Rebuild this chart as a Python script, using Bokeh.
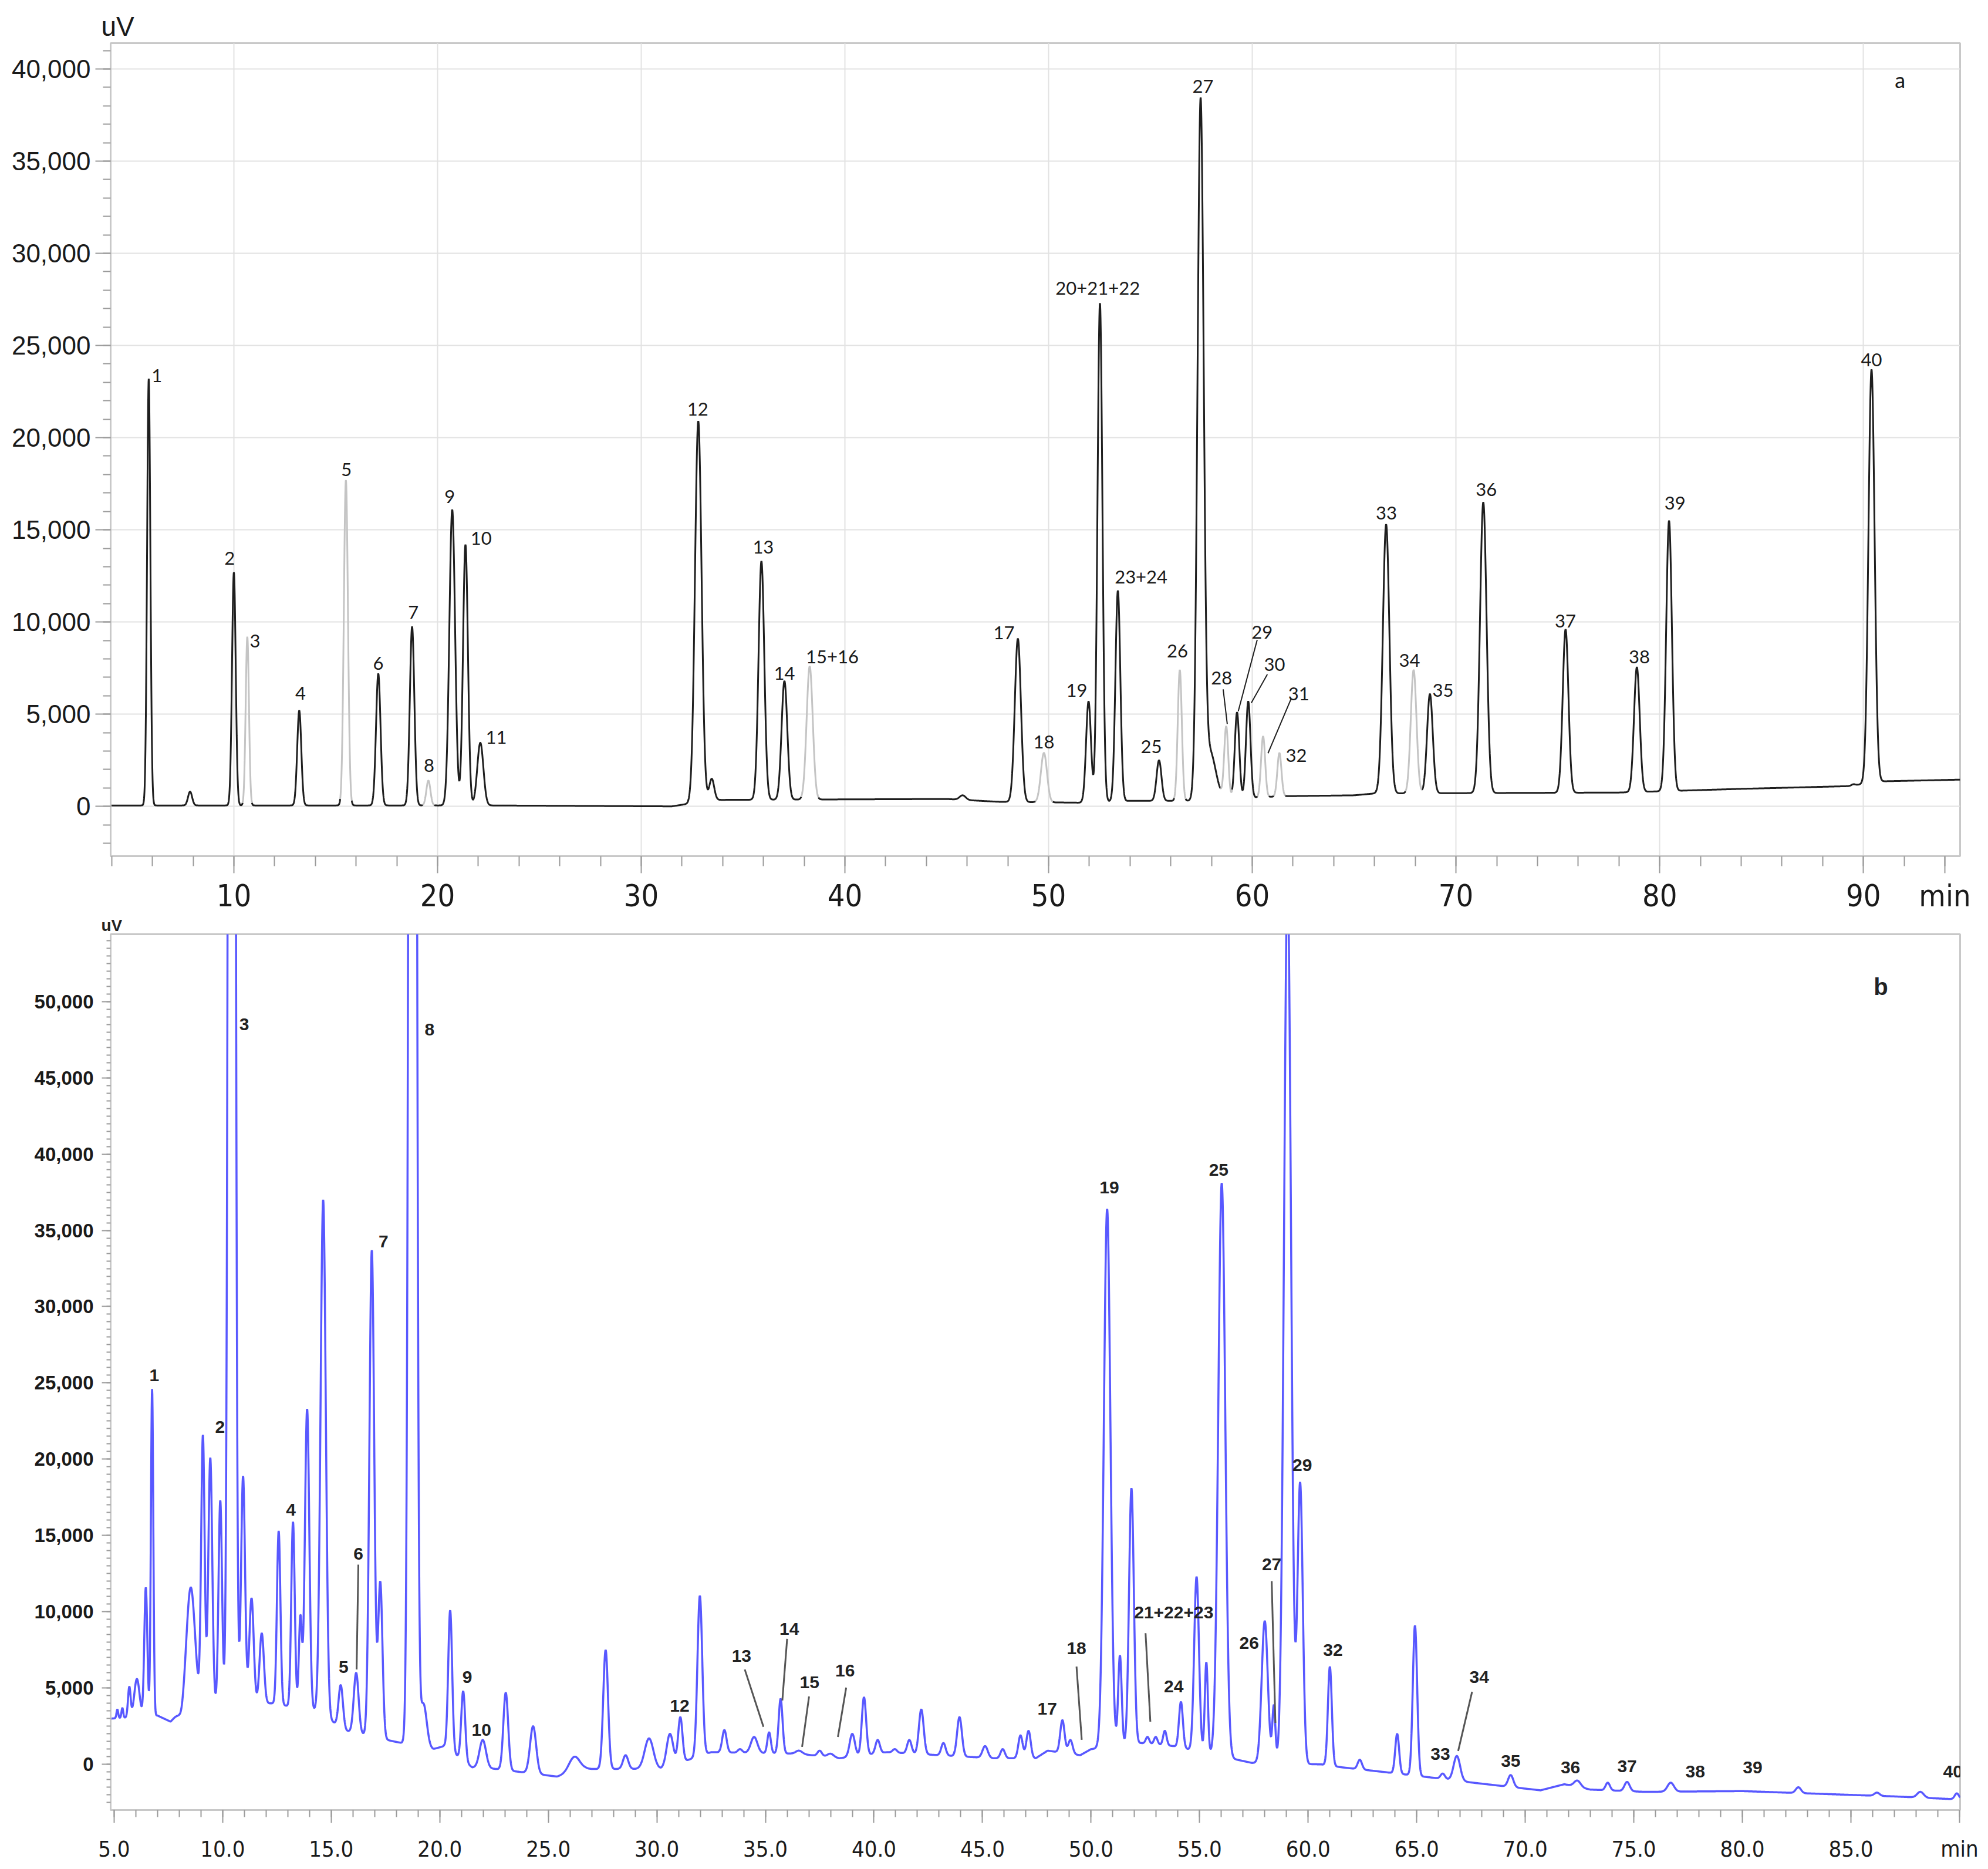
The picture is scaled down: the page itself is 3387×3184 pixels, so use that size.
import numpy as np
from bokeh.plotting import figure
from bokeh.layouts import column
from bokeh.models import (ColumnDataSource, FixedTicker, NumeralTickFormatter,
                          PrintfTickFormatter, Range1d)
from bokeh.core.properties import value
from bokeh.embed import file_html
from bokeh.resources import INLINE

# ======================= DATA : chromatogram a =======================
a_peak_time = [5.82, 7.85, 10.00, 10.66, 13.21, 15.50, 17.09, 18.75, 19.55, 20.72, 21.37, 22.10,
               32.80, 33.46, 35.90, 37.03, 38.27, 45.78, 48.49, 49.77, 51.96, 52.52, 53.40,
               55.42, 56.44, 57.46, 57.90, 58.72, 59.25, 59.80, 60.53, 61.33, 66.57, 67.92,
               68.72, 71.34, 75.38, 78.88, 80.46, 89.50, 90.40]
a_peak_uv = [23200, 800, 12700, 9200, 5200, 17700, 7200, 9750, 1400, 16100, 14200, 3450,
             20900, 1500, 13300, 6800, 7600, 600, 9100, 2900, 5700, 27300, 11700,
             2500, 7400, 38450, 3500, 4350, 5100, 5700, 3800, 2900, 15300, 7400,
             6100, 16500, 9600, 7550, 15500, 1200, 23700]
a_peak_width = [0.08, 0.10, 0.09, 0.08, 0.10, 0.10, 0.11, 0.11, 0.10, 0.14, 0.12, 0.15,
                0.16, 0.12, 0.14, 0.14, 0.15, 0.15, 0.15, 0.15, 0.12, 0.12, 0.12,
                0.12, 0.10, 0.15, 0.30, 0.10, 0.11, 0.11, 0.10, 0.10, 0.16, 0.14,
                0.14, 0.16, 0.14, 0.14, 0.14, 0.10, 0.15]
a_peak_grey = [0, 0, 0, 1, 0, 1, 0, 0, 1, 0, 0, 0,
               0, 0, 0, 0, 1, 0, 0, 1, 0, 0, 0,
               0, 1, 0, 0, 1, 0, 0, 1, 1, 0, 1,
               0, 0, 0, 0, 0, 0, 0]
a_base_time = [3.95, 22.5, 31.5, 33.5, 45.0, 47.5, 51.5, 54.0, 57.0, 61.5, 65.0, 66.0,
               78.0, 84.0, 89.4, 90.6, 94.75]
a_base_uv = [50, 50, 0, 350, 400, 250, 200, 300, 300, 550, 600, 700,
             750, 950, 1100, 1350, 1450]

a_labels = ["1", "2", "3", "4", "5", "6", "7", "8", "9", "10", "11", "12", "13", "14",
            "15+16", "17", "18", "19", "20+21+22", "23+24", "25", "26", "27", "28", "29",
            "30", "31", "32", "33", "34", "35", "36", "37", "38", "39", "40"]
a_label_time = [6.22, 9.79, 11.04, 13.27, 15.53, 17.09, 18.81, 19.58, 20.60, 22.14, 22.88,
                32.77, 35.99, 37.03, 39.38, 47.81, 49.77, 51.38, 52.41, 54.54, 55.04, 56.32,
                57.58, 58.49, 60.48, 61.09, 62.28, 62.16, 66.58, 67.72, 69.36, 71.49, 75.37,
                79.00, 80.75, 90.40]
a_label_uv = [23350, 13450, 8960, 6140, 18270, 7750, 10520, 2220, 16790, 14550, 3760,
              21550, 14070, 7210, 8100, 9400, 3490, 6290, 28100, 12430, 3240, 8420,
              39070, 6960, 9440, 7690, 6100, 2750, 15900, 7910, 6300, 17190, 10050,
              8100, 16440, 24210]
a_lead_t0 = [58.57, 60.24, 60.74, 61.90]
a_lead_v0 = [6350, 9030, 7160, 5820]
a_lead_t1 = [58.77, 59.31, 59.95, 60.77]
a_lead_v1 = [4470, 5160, 5610, 2880]

a_xticks = [10, 20, 30, 40, 50, 60, 70, 80, 90]
a_xunit_tick = 94
a_yticks = [0, 5000, 10000, 15000, 20000, 25000, 30000, 35000, 40000]

# ======================= DATA : chromatogram b =======================
b_peak_time = [5.15, 5.38, 5.70, 6.05, 6.46, 6.75, 8.10, 8.53, 9.09, 9.43, 9.89, 10.42,
               10.94, 11.33, 11.80, 12.58, 13.24, 13.58, 13.89, 14.63, 15.44, 16.15, 16.87, 17.26,
               18.75, 19.25, 20.48, 21.08, 21.98, 23.04, 24.30, 26.20, 27.64, 28.56, 29.64, 30.60,
               31.08, 31.98, 33.11, 33.83, 34.48, 35.17, 35.70, 36.55, 37.50, 38.00, 39.00, 39.54,
               40.17, 40.96, 41.63, 42.18, 43.20, 43.94, 45.12, 45.93, 46.75, 47.12, 48.68, 49.05,
               50.74, 51.33, 51.86, 52.60, 52.98, 53.40, 54.14, 54.86, 55.31, 56.02, 58.00, 58.42,
               59.05, 59.63, 61.00, 62.38, 64.10, 64.92, 66.20, 66.85, 69.33, 72.40, 73.80, 74.69,
               76.70, 82.58, 86.20, 88.20, 89.88]
b_peak_uv = [3600, 3700, 5100, 5600, 11600, 24600, 3700, 11600, 21600, 20100, 17300, 250000,
             18900, 10900, 8600, 15300, 15900, 9800, 23300, 37000, 5200, 6000, 33700, 12000,
             250000, 4000, 10100, 4800, 1600, 4700, 2500, 500, 7500, 600, 1700, 2000,
             3100, 11050, 2250, 1000, 1800, 2100, 4300, 900, 900, 700, 2000, 4400,
             1600, 1000, 1600, 3600, 1400, 3100, 1200, 1000, 1900, 2200, 2900, 1600,
             36400, 7150, 18100, 1800, 1800, 2200, 4100, 12300, 6700, 38100, 9400, 3900,
             58000, 18500, 6400, 300, 2000, 9100, -600, 550, -700, -1060, -1200, -1150,
             -1200, -1500, -1850, -1800, -1900]
b_peak_width = [0.04, 0.04, 0.06, 0.12, 0.07, 0.055, 0.12, 0.20, 0.08, 0.09, 0.08, 0.11,
                0.09, 0.10, 0.10, 0.08, 0.08, 0.07, 0.10, 0.12, 0.10, 0.11, 0.11, 0.10,
                0.12, 0.15, 0.09, 0.09, 0.15, 0.11, 0.14, 0.25, 0.11, 0.12, 0.20, 0.15,
                0.10, 0.11, 0.10, 0.10, 0.15, 0.08, 0.09, 0.15, 0.10, 0.15, 0.12, 0.10,
                0.10, 0.10, 0.10, 0.11, 0.10, 0.11, 0.12, 0.10, 0.10, 0.10, 0.10, 0.10,
                0.15, 0.08, 0.11, 0.08, 0.08, 0.08, 0.09, 0.11, 0.07, 0.16, 0.14, 0.07,
                0.16, 0.12, 0.09, 0.10, 0.09, 0.10, 0.10, 0.15, 0.12, 0.15, 0.10, 0.12,
                0.15, 0.12, 0.12, 0.15, 0.10]
b_base_time = [4.84, 7.00, 7.60, 8.00, 10.00, 12.30, 14.30, 15.70, 17.90, 19.70,
               20.20, 21.50, 22.60, 25.40, 26.70, 28.90, 30.20, 32.50, 36.50, 38.40,
               40.60, 45.50, 47.45, 48.00, 49.50, 50.00, 52.30, 53.80, 57.40, 60.60,
               61.60, 63.50, 65.90, 67.60, 70.70, 71.80, 73.00, 75.50, 80.00, 83.00,
               87.00, 90.03]
b_base_uv = [3000, 3200, 2800, 3400, 4000, 4000, 3500, 2200, 1500, 1000,
             1200, -200, -300, -800, -300, -300, -300, 800, 700, 400,
             800, 400, 400, 900, 600, 1000, 1400, 1200, 100, 0,
             -200, -500, -900, -1200, -1700, -1300, -1650, -1800, -1750, -1900,
             -2100, -2300]

b_labels = ["1", "2", "3", "4", "5", "6", "7", "8", "9", "10", "12", "13", "14", "15",
            "16", "17", "18", "19", "21+22+23", "24", "25", "26", "27", "29", "32", "33",
            "34", "35", "36", "37", "38", "39", "40"]
b_label_time = [6.85, 9.88, 10.99, 13.14, 15.57, 16.25, 17.41, 19.53, 21.27, 21.92, 31.05,
                33.90, 36.10, 37.03, 38.67, 47.98, 49.33, 50.84, 53.81, 53.81, 55.88, 57.28,
                58.32, 59.73, 61.14, 66.09, 67.88, 69.33, 72.08, 74.69, 77.83, 80.47, 89.70]
b_label_uv = [25490, 22100, 48500, 16690, 6370, 13810, 34270, 48160, 5730, 2280, 3840,
              7100, 8860, 5370, 6140, 3650, 7610, 37800, 9960, 5100, 38960, 7940,
              13120, 19610, 7490, 690, 5730, 230, -210, -140, -460, -210, -460]
b_lead_t0 = [16.25, 34.05, 36.00, 37.01, 38.72, 49.33, 52.51, 58.32, 67.55]
b_lead_v0 = [13090, 6220, 8230, 4450, 5030, 6410, 8600, 12010, 4760]
b_lead_t1 = [16.17, 34.91, 35.78, 36.69, 38.34, 49.57, 52.73, 58.49, 66.91]
b_lead_v1 = [6220, 2460, 4190, 1150, 1800, 1610, 2800, 2720, 880]

b_xticks = [5, 10, 15, 20, 25, 30, 35, 40, 45, 50, 55, 60, 65, 70, 75, 80, 85, 90]
b_xunit_tick = 90
b_yticks = [0, 5000, 10000, 15000, 20000, 25000, 30000, 35000, 40000, 45000, 50000]


# ======================= helpers =======================
def build_trace(t, pt, pv, pw, bt, bv):
    pt = np.asarray(pt, float)
    pv = np.asarray(pv, float)
    pw = np.asarray(pw, float)
    G = np.exp(-0.5 * ((pt[:, None] - pt[None, :]) / pw[None, :]) ** 2)
    amp = np.linalg.solve(G, pv - np.interp(pt, bt, bv))
    comps = amp[None, :] * np.exp(-0.5 * ((t[:, None] - pt[None, :]) / pw[None, :]) ** 2)
    return np.interp(t, bt, bv) + comps.sum(axis=1)


NARROW = "Liberation Sans Narrow, Arial Narrow, DejaVu Sans Condensed, sans-serif"
SANS = "Liberation Sans, Arial, sans-serif"
FRAME = "#c8c8c8"
TICK = "#9a9a9a"


def style_axes(p):
    for ax in (p.xaxis[0], p.yaxis[0]):
        ax.axis_line_color = FRAME
        ax.axis_line_width = 3
        ax.major_tick_line_color = TICK
        ax.minor_tick_line_color = TICK
        ax.major_tick_line_width = 2
        ax.minor_tick_line_width = 2
        ax.major_tick_in = 0
        ax.minor_tick_in = 0
        ax.major_label_text_color = "#1a1a1a"


# ======================= panel a =======================
t_a = np.arange(3.95, 94.76, 0.01)
y_a = build_trace(t_a, a_peak_time, a_peak_uv, a_peak_width, a_base_time, a_base_uv)
mask = np.zeros(t_a.shape, bool)
for tp, w, g in zip(a_peak_time, a_peak_width, a_peak_grey):
    if g:
        mask |= np.abs(t_a - tp) < 2.8 * w
mask_ext = mask | np.roll(mask, 1) | np.roll(mask, -1)
y_black = np.where(mask, np.nan, y_a)
y_grey = np.where(mask_ext, y_a, np.nan)

p1 = figure(width=3387, height=1558, x_range=Range1d(3.95, 94.75),
            y_range=Range1d(-2700, 41400), output_backend="svg", toolbar_location=None,
            min_border=0, min_border_left=188, min_border_right=48,
            min_border_top=73, min_border_bottom=97,
            title="uV")
p1.title.align = "left"
p1.title.offset = -16
p1.title.standoff = 6
p1.title.text_font = SANS
p1.title.text_font_size = "46px"
p1.title.text_font_style = "normal"
p1.title.text_color = "#1a1a1a"
p1.outline_line_color = FRAME
p1.outline_line_width = 3
p1.xgrid.ticker = FixedTicker(ticks=a_xticks)
p1.ygrid.ticker = FixedTicker(ticks=a_yticks)
for g in (p1.xgrid, p1.ygrid):
    g.grid_line_color = "#e2e2e2"
    g.grid_line_width = 2

p1.xaxis.ticker = FixedTicker(ticks=a_xticks + [a_xunit_tick], minor_ticks=list(range(4, 95, 2)))
p1.xaxis.major_label_overrides = {a_xunit_tick: "min"}
p1.yaxis.ticker = FixedTicker(ticks=a_yticks, minor_ticks=list(range(-2000, 41001, 1000)))
p1.yaxis.formatter = NumeralTickFormatter(format="0,0")
style_axes(p1)
p1.xaxis.major_tick_out = 29
p1.xaxis.minor_tick_out = 17
p1.xaxis.major_label_standoff = 8
p1.xaxis.major_label_text_font = NARROW
p1.xaxis.major_label_text_font_size = "52px"
p1.yaxis.major_tick_out = 26
p1.yaxis.minor_tick_out = 13
p1.yaxis.major_label_standoff = 8
p1.yaxis.major_label_text_font = SANS
p1.yaxis.major_label_text_font_size = "44px"

p1.line(t_a, y_black, line_color="#1e1e1e", line_width=3)
p1.line(t_a, y_grey, line_color="#c4c4c4", line_width=3)
p1.segment(a_lead_t0, a_lead_v0, a_lead_t1, a_lead_v1, line_color="#1e1e1e", line_width=2)
src_a = ColumnDataSource(dict(x=a_label_time, y=a_label_uv, text=a_labels))
p1.text("x", "y", "text", source=src_a, text_font=value("Lato"), text_font_size="31px",
        text_align="center", text_baseline="middle", text_color="#1a1a1a")
p1.text([91.80], [39400], ["a"], text_font=value("Lato"), text_font_size="36px",
        text_align="center", text_baseline="middle", text_color="#1a1a1a")

# ======================= panel b =======================
t_b = np.arange(4.84, 90.031, 0.01)
y_b = build_trace(t_b, b_peak_time, b_peak_uv, b_peak_width, b_base_time, b_base_uv)

p2 = figure(width=3387, height=1626, x_range=Range1d(4.84, 90.03),
            y_range=Range1d(-2990, 54410), output_backend="svg", toolbar_location=None,
            min_border=0, min_border_left=188, min_border_right=42,
            min_border_top=29, min_border_bottom=101,
            title="uV")
p2.title.align = "left"
p2.title.offset = -16
p2.title.standoff = 0
p2.title.text_font = SANS
p2.title.text_font_size = "28px"
p2.title.text_font_style = "bold"
p2.title.text_color = "#222222"
p2.outline_line_color = FRAME
p2.outline_line_width = 3
p2.xgrid.grid_line_color = None
p2.ygrid.grid_line_color = None
p2.xaxis.ticker = FixedTicker(ticks=b_xticks, minor_ticks=list(range(5, 91, 1)))
p2.xaxis.formatter = PrintfTickFormatter(format="%.1f")
p2.xaxis.major_label_overrides = {b_xunit_tick: "min"}
p2.yaxis.ticker = FixedTicker(ticks=b_yticks, minor_ticks=list(range(-2500, 54001, 500)))
p2.yaxis.formatter = NumeralTickFormatter(format="0,0")
style_axes(p2)
p2.xaxis.major_tick_out = 22
p2.xaxis.minor_tick_out = 12
p2.xaxis.major_label_standoff = 22
p2.xaxis.major_label_text_font = NARROW
p2.xaxis.major_label_text_font_size = "38px"
p2.yaxis.major_tick_out = 15
p2.yaxis.minor_tick_out = 7
p2.yaxis.major_label_standoff = 14
p2.yaxis.major_label_text_font = SANS
p2.yaxis.major_label_text_font_size = "33px"
p2.yaxis.major_label_text_font_style = "bold"

p2.line(t_b, y_b, line_color="#5858ff", line_width=3.5)
p2.segment(b_lead_t0, b_lead_v0, b_lead_t1, b_lead_v1, line_color="#555555", line_width=3)
src_b = ColumnDataSource(dict(x=b_label_time, y=b_label_uv, text=b_labels))
p2.text("x", "y", "text", source=src_b, text_font=value("Liberation Sans"),
        text_font_size="30px", text_font_style="bold", text_align="center",
        text_baseline="middle", text_color="#222222")
p2.text([86.38], [50960], ["b"], text_font=value("Liberation Sans"), text_font_size="40px",
        text_font_style="bold", text_align="center", text_baseline="middle",
        text_color="#222222")

layout = column(p1, p2, spacing=0)
open("out.html", "w").write(file_html(layout, INLINE))
